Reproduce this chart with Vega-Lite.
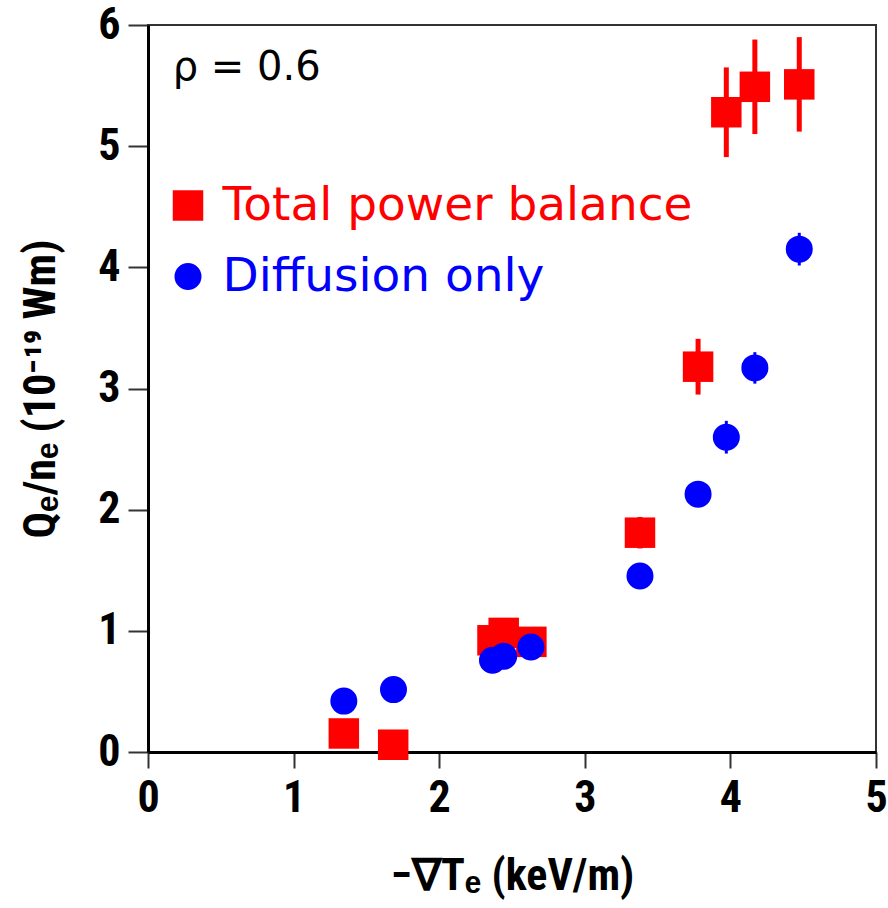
{
  "$schema": "https://vega.github.io/schema/vega-lite/v6.json",
  "width": 728,
  "height": 727,
  "autosize": {"type": "none"},
  "padding": {"left": 148, "top": 25, "right": 12, "bottom": 156},
  "background": "white",
  "config": {
    "view": {"stroke": "#333333", "strokeWidth": 2},
    "axis": {
      "domainColor": "black",
      "domainWidth": 3,
      "tickColor": "#333333",
      "tickWidth": 2,
      "grid": false,
      "format": "d",
      "labelFont": "'Roboto Condensed', 'Arial Narrow', 'Liberation Sans Narrow', 'Liberation Sans', sans-serif",
      "labelFontWeight": "bold",
      "labelFontSize": 44,
      "labelColor": "black",
      "titleFont": "'Roboto Condensed', 'Arial Narrow', 'Liberation Sans Narrow', 'Liberation Sans', sans-serif",
      "titleFontWeight": "bold",
      "titleFontSize": 44,
      "titleColor": "black"
    }
  },
  "datasets": {
    "flux": [
      {"grad": 1.345, "q": 0.153, "err": 0, "series": "Total power balance"},
      {"grad": 1.684, "q": 0.06, "err": 0, "series": "Total power balance"},
      {"grad": 2.366, "q": 0.922, "err": 0, "series": "Total power balance"},
      {"grad": 2.443, "q": 0.983, "err": 0, "series": "Total power balance"},
      {"grad": 2.633, "q": 0.909, "err": 0, "series": "Total power balance"},
      {"grad": 3.379, "q": 1.81, "err": 0.13, "series": "Total power balance"},
      {"grad": 3.778, "q": 3.18, "err": 0.23, "series": "Total power balance"},
      {"grad": 3.972, "q": 5.28, "err": 0.37, "series": "Total power balance"},
      {"grad": 4.168, "q": 5.49, "err": 0.39, "series": "Total power balance"},
      {"grad": 4.473, "q": 5.51, "err": 0.39, "series": "Total power balance"},
      {"grad": 1.345, "q": 0.42, "err": 0, "series": "Diffusion only"},
      {"grad": 1.686, "q": 0.515, "err": 0, "series": "Diffusion only"},
      {"grad": 2.366, "q": 0.757, "err": 0, "series": "Diffusion only"},
      {"grad": 2.443, "q": 0.79, "err": 0, "series": "Diffusion only"},
      {"grad": 2.63, "q": 0.866, "err": 0, "series": "Diffusion only"},
      {"grad": 3.379, "q": 1.453, "err": 0, "series": "Diffusion only"},
      {"grad": 3.778, "q": 2.128, "err": 0, "series": "Diffusion only"},
      {"grad": 3.972, "q": 2.598, "err": 0.135, "series": "Diffusion only"},
      {"grad": 4.168, "q": 3.17, "err": 0.13, "series": "Diffusion only"},
      {"grad": 4.473, "q": 4.15, "err": 0.135, "series": "Diffusion only"}
    ],
    "note": [{"label": "ρ = 0.6"}]
  },
  "layer": [
    {
      "data": {"name": "flux"},
      "transform": [{"filter": "datum.series === 'Total power balance' && datum.err > 0"}],
      "mark": {"type": "errorbar", "thickness": 5, "color": "#ff0000"},
      "encoding": {
        "x": {"field": "grad", "type": "quantitative", "title": "−∇Tₑ (keV/m)"},
        "y": {"field": "q", "type": "quantitative", "title": "Qₑ/nₑ (10⁻¹⁹ Wm)"},
        "yError": {"field": "err"}
      }
    },
    {
      "data": {"name": "flux"},
      "transform": [{"filter": "datum.series === 'Diffusion only' && datum.err > 0"}],
      "mark": {"type": "errorbar", "thickness": 3, "color": "#0000ff"},
      "encoding": {
        "x": {"field": "grad", "type": "quantitative", "title": "−∇Tₑ (keV/m)"},
        "y": {"field": "q", "type": "quantitative", "title": "Qₑ/nₑ (10⁻¹⁹ Wm)"},
        "yError": {"field": "err"}
      }
    },
    {
      "data": {"name": "flux"},
      "mark": {"type": "point", "filled": true, "opacity": 1, "strokeWidth": 0},
      "encoding": {
        "x": {
          "field": "grad",
          "type": "quantitative",
          "title": "−∇Tₑ (keV/m)",
          "scale": {"domain": [0, 5], "nice": false},
          "axis": {
            "values": [0, 1, 2, 3, 4, 5],
            "tickSize": 16,
            "labelPadding": 8,
            "titlePadding": 34,
            "labelFlush": false,
            "labelOverlap": false
          }
        },
        "y": {
          "field": "q",
          "type": "quantitative",
          "title": "Qₑ/nₑ (10⁻¹⁹ Wm)",
          "scale": {"domain": [0, 6], "nice": false},
          "axis": {
            "values": [0, 1, 2, 3, 4, 5, 6],
            "tickSize": 20,
            "labelPadding": 8,
            "titlePadding": 34,
            "labelFlush": false,
            "labelOverlap": false
          }
        },
        "color": {
          "field": "series",
          "type": "nominal",
          "scale": {"domain": ["Total power balance", "Diffusion only"], "range": ["#ff0000", "#0000ff"]},
          "legend": {
            "title": null,
            "orient": "none",
            "legendX": 16.5,
            "legendY": 157,
            "padding": 0,
            "labelFont": "DejaVu Sans",
            "labelFontWeight": "normal",
            "labelFontSize": 47,
            "labelOffset": 11,
            "labelLimit": 0,
            "rowPadding": 23,
            "labelColor": {"expr": "datum.label === 'Diffusion only' ? '#0000ff' : '#ff0000'"}
          }
        },
        "shape": {
          "field": "series",
          "type": "nominal",
          "scale": {"domain": ["Total power balance", "Diffusion only"], "range": ["square", "circle"]}
        },
        "size": {
          "field": "series",
          "type": "nominal",
          "scale": {"domain": ["Total power balance", "Diffusion only"], "range": [930, 730]}
        },
        "order": {"field": "series", "sort": "descending"}
      }
    },
    {
      "data": {"name": "note"},
      "mark": {"type": "text", "align": "left", "baseline": "alphabetic", "font": "DejaVu Sans", "fontWeight": "normal", "fontSize": 40, "color": "black"},
      "encoding": {
        "x": {"datum": 0.17},
        "y": {"datum": 5.55},
        "text": {"field": "label"}
      }
    }
  ]
}
